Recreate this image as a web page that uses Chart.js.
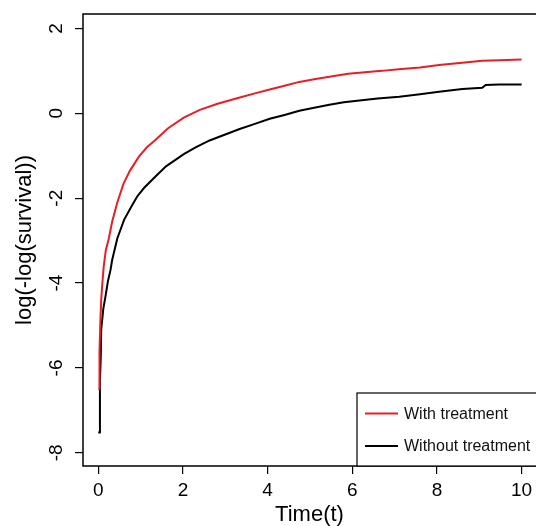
<!DOCTYPE html>
<html>
<head>
<meta charset="utf-8">
<script src="https://cdn.jsdelivr.net/npm/chart.js@4/dist/chart.umd.min.js"></script>
<style>
  html, body { margin: 0; padding: 0; background: #fff; }
  #wrap { width: 536px; height: 526px; }
</style>
</head>
<body>
<div id="wrap"><canvas id="chart" width="536" height="526"></canvas></div>
<script>
// values
var withTime = [0.0, 0.03, 0.03, 0.05, 0.07, 0.09, 0.13, 0.18, 0.25, 0.33, 0.45, 0.6, 0.75, 0.96, 1.15, 1.35, 1.65, 2.02, 2.4, 2.8, 3.3, 3.7, 4.05, 4.4, 4.75, 5.1, 5.46, 5.9, 6.3, 6.7, 7.1, 7.6, 8.05, 8.6, 9.07, 9.47, 10.0]
var withValue = [-6.49, -6.49, -5.6, -4.9, -4.4, -4.1, -3.6, -3.22, -2.95, -2.55, -2.1, -1.65, -1.35, -1.02, -0.8, -0.63, -0.35, -0.1, 0.08, 0.22, 0.36, 0.47, 0.56, 0.65, 0.74, 0.8, 0.86, 0.93, 0.97, 1.0, 1.04, 1.08, 1.14, 1.19, 1.24, 1.25, 1.27]

var withoutTime = [0.0, 0.04, 0.04, 0.06, 0.07, 0.12, 0.17, 0.23, 0.29, 0.33, 0.45, 0.61, 0.78, 0.92, 1.08, 1.31, 1.6, 2.02, 2.3, 2.63, 3.0, 3.34, 3.7, 4.05, 4.4, 4.75, 5.1, 5.46, 5.8, 6.17, 6.6, 7.11, 7.6, 8.05, 8.6, 9.07, 9.15, 9.47, 10.0]
var withoutValue = [-7.52, -7.52, -6.3, -5.73, -5.1, -4.6, -4.32, -3.95, -3.69, -3.45, -2.95, -2.51, -2.2, -1.96, -1.76, -1.53, -1.25, -0.96, -0.8, -0.64, -0.5, -0.37, -0.25, -0.13, -0.04, 0.06, 0.13, 0.2, 0.26, 0.3, 0.35, 0.39, 0.45, 0.51, 0.57, 0.6, 0.67, 0.68, 0.68]

var seriesLabels = ['With treatment', 'Without treatment']
var seriesColors = ['#ec1c24', '#000000']

var xTicks = [0, 2, 4, 6, 8, 10]
var yTicks = [-8, -6, -4, -2, 0, 2]
var xTitle = 'Time(t)'
var yTitle = 'log(-log(survival))'

var FONT = "'Liberation Sans', Arial, Helvetica, sans-serif"

function to_points(xs, ys) {
    return xs.map(function(x, i) {
        return {x: x, y: ys[i]}
    })
}

// R style box: left, top and bottom edges (right edge runs off the canvas)
var boxPlugin = {
    id: 'rbox',
    afterDatasetsDraw: function(chart) {
        var a = chart.chartArea
        var ctx = chart.ctx
        ctx.save()
        ctx.strokeStyle = '#000'
        ctx.lineWidth = 1.5
        ctx.beginPath()
        ctx.moveTo(a.right + 5, a.top)
        ctx.lineTo(a.left, a.top)
        ctx.lineTo(a.left, a.bottom)
        ctx.lineTo(a.right + 5, a.bottom)
        ctx.stroke()
        ctx.restore()
    }
}

// bottom right legend with a frame, like R's legend()
var legendPlugin = {
    id: 'rlegend',
    afterDraw: function(chart) {
        var a = chart.chartArea
        var ctx = chart.ctx
        var left = a.right - 179
        var top = a.bottom - 73
        ctx.save()
        ctx.fillStyle = '#fff'
        ctx.fillRect(left, top, a.right - left + 5, a.bottom - top)
        ctx.strokeStyle = '#000'
        ctx.lineWidth = 1.2
        ctx.strokeRect(left, top, a.right - left + 5, a.bottom - top)
        ctx.font = '16px ' + FONT
        ctx.textBaseline = 'middle'
        ctx.textAlign = 'left'
        var ds = chart.data.datasets
        for (var i = 0; i < ds.length; i++) {
            var y = top + 20.5 + i * 32.5
            ctx.strokeStyle = ds[i].borderColor
            ctx.lineWidth = 2
            ctx.beginPath()
            ctx.moveTo(left + 8, y)
            ctx.lineTo(left + 41, y)
            ctx.stroke()
            ctx.fillStyle = '#111'
            ctx.fillText(ds[i].label, left + 47, y + 1)
        }
        ctx.restore()
    }
}

var data = {
    datasets: [
        {
            label: seriesLabels[0],
            data: to_points(withTime, withValue),
            borderColor: seriesColors[0],
            backgroundColor: seriesColors[0],
            borderWidth: 2,
            showLine: true,
            pointRadius: 0,
            tension: 0
        },
        {
            label: seriesLabels[1],
            data: to_points(withoutTime, withoutValue),
            borderColor: seriesColors[1],
            backgroundColor: seriesColors[1],
            borderWidth: 2,
            showLine: true,
            pointRadius: 0,
            tension: 0
        }
    ]
}

new Chart(document.getElementById('chart'), {
    type: 'scatter',
    data: data,
    plugins: [boxPlugin, legendPlugin],
    options: {
        responsive: false,
        animation: false,
        layout: { padding: { top: 14, right: 0, left: 0, bottom: 0 } },
        plugins: {
            legend: { display: false },
            tooltip: { enabled: false }
        },
        scales: {
            x: {
                type: 'linear',
                min: -0.36,
                max: 10.34,
                afterBuildTicks: function(scale) {
                    scale.ticks = xTicks.map(function(v) { return {value: v} })
                },
                afterFit: function(scale) {
                    scale.height = 60
                    scale.paddingLeft = 0
                    scale.paddingRight = 0
                },
                border: { display: false },
                grid: { display: true, drawOnChartArea: false, drawTicks: true, tickLength: 8, color: '#000', lineWidth: 1.2 },
                ticks: {
                    color: '#000',
                    font: { size: 19, family: FONT },
                    padding: 5,
                    maxRotation: 0,
                    autoSkip: false
                },
                title: {
                    display: true,
                    text: xTitle,
                    color: '#000',
                    font: { size: 22, family: FONT },
                    padding: { top: 0, bottom: -2 }
                }
            },
            y: {
                type: 'linear',
                min: -8.31,
                max: 2.34,
                afterBuildTicks: function(scale) {
                    scale.ticks = yTicks.map(function(v) { return {value: v} })
                },
                afterFit: function(scale) {
                    scale.width = 83
                    scale.paddingTop = 0
                    scale.paddingBottom = 0
                },
                border: { display: false },
                grid: { display: true, drawOnChartArea: false, drawTicks: true, tickLength: 8, color: '#000', lineWidth: 1.2 },
                ticks: {
                    color: '#000',
                    font: { size: 19, family: FONT },
                    padding: 10,
                    minRotation: 90,
                    maxRotation: 90,
                    crossAlign: 'center',
                    autoSkip: false
                },
                title: {
                    display: true,
                    text: yTitle,
                    color: '#000',
                    font: { size: 22, family: FONT },
                    padding: { top: 12, bottom: 0 }
                }
            }
        }
    }
})
</script>
</body>
</html>
